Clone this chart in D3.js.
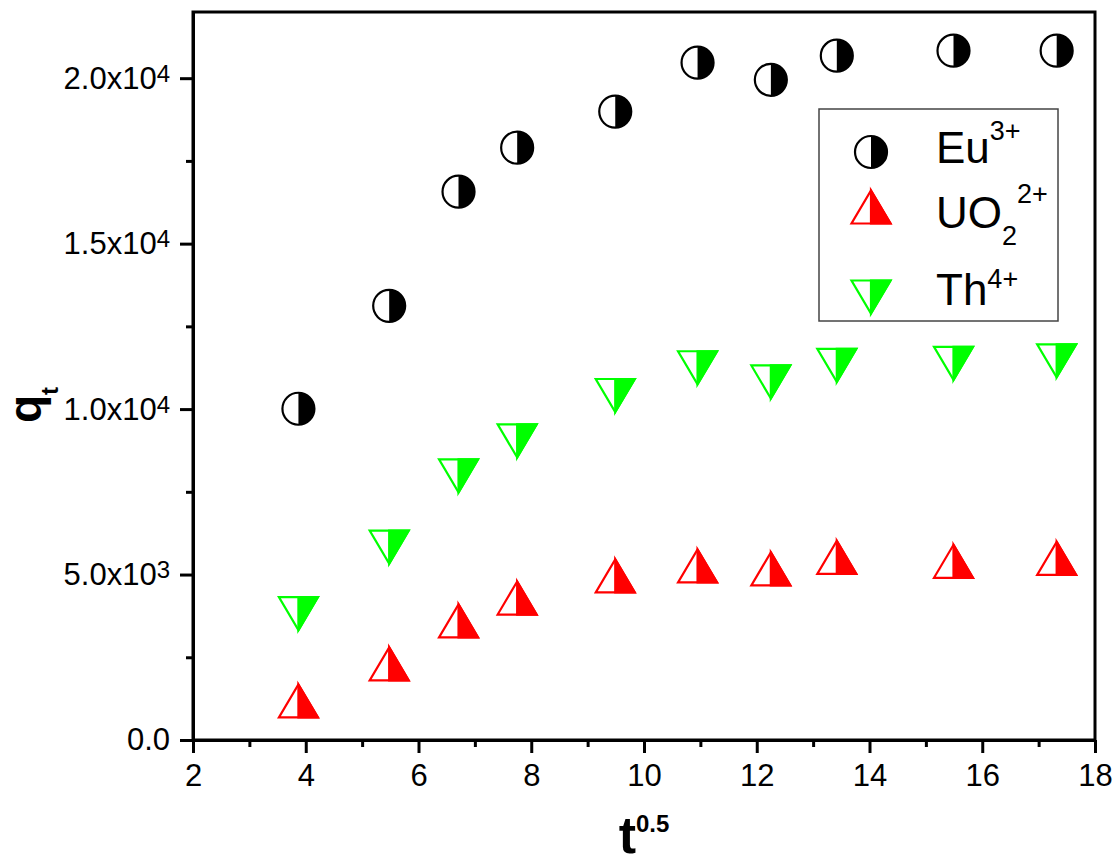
<!DOCTYPE html>
<meta charset="utf-8">
<head>
  <title>q_t vs t^0.5</title>
</head>
<style>
body { margin: 0; background: #fff; }
text { font-family: Arial, "Liberation Sans", sans-serif; fill: #000; }
</style>
<body>
<svg id="chart" width="1117" height="861"></svg>
<script src="https://cdnjs.cloudflare.com/ajax/libs/d3/7.8.5/d3.min.js"></script>
<script>
// data
var tHalf = [3.87, 5.48, 6.71, 7.75, 9.49, 10.95, 12.25, 13.42, 15.49, 17.32];
var eu  = [10010, 13120, 16570, 17900, 18990, 20470, 19950, 20680, 20830, 20830];
var uo2 = [1180, 2300, 3600, 4290, 4960, 5260, 5170, 5520, 5400, 5490];
var th  = [3820, 5830, 7980, 9040, 10410, 11250, 10820, 11320, 11380, 11460];

var xMajor = [2, 4, 6, 8, 10, 12, 14, 16, 18];
var xMinor = [3, 5, 7, 9, 11, 13, 15, 17];
var yMajor = [0, 5000, 10000, 15000, 20000];
var yMinor = [2500, 7500, 12500, 17500];
var yMant = ["0.0", "5.0x10", "1.0x10", "1.5x10", "2.0x10"];
var yExp  = ["", "3", "4", "4", "4"];

var pLeft = 193, pRight = 1095, pTop = 12, pBottom = 740;

var svg = d3.select("#chart");
svg.append("rect").attr("width", 1117).attr("height", 861).attr("fill", "#fff");

var x = d3.scaleLinear().domain([2, 18]).range([pLeft, pRight]);
var y = d3.scaleLinear().domain([0, 22000]).range([pBottom, pTop]);

// frame
svg.append("rect")
  .attr("x", pLeft).attr("y", pTop)
  .attr("width", pRight - pLeft).attr("height", pBottom - pTop)
  .attr("fill", "none").attr("stroke", "#000").attr("stroke-width", 3);

// minor ticks
svg.append("g")
  .attr("transform", "translate(0," + pBottom + ")")
  .call(d3.axisBottom(x).tickValues(xMinor).tickSize(7).tickSizeOuter(0).tickFormat(""))
  .call(styleAxis);
svg.append("g")
  .attr("transform", "translate(" + pLeft + ",0)")
  .call(d3.axisLeft(y).tickValues(yMinor).tickSize(7).tickSizeOuter(0).tickFormat(""))
  .call(styleAxis);

// major ticks
var xg = svg.append("g")
  .attr("transform", "translate(0," + pBottom + ")")
  .call(d3.axisBottom(x).tickValues(xMajor).tickSize(13).tickPadding(11).tickSizeOuter(0).tickFormat(d3.format("d")))
  .call(styleAxis);
xg.selectAll("text").style("font-size", "31px");

var yg = svg.append("g")
  .attr("transform", "translate(" + pLeft + ",0)")
  .call(d3.axisLeft(y).tickValues(yMajor).tickSize(13).tickPadding(10).tickSizeOuter(0).tickFormat(""))
  .call(styleAxis);
yg.selectAll(".tick text").each(function(d, i) {
  var t = d3.select(this).style("font-size", "31px");
  t.append("tspan").text(yMant[i]);
  if (yExp[i]) t.append("tspan").attr("dy", -7).style("font-size", "24px").text(yExp[i]);
});

function styleAxis(g) {
  g.select(".domain").attr("stroke-width", 3);
  g.selectAll(".tick line").attr("stroke-width", 3);
}

// axis titles
var xt = svg.append("text")
  .attr("x", 644).attr("y", 853)
  .attr("text-anchor", "middle")
  .style("font-weight", "bold");
xt.append("tspan").style("font-size", "52px").text("t");
xt.append("tspan").attr("dy", -21).style("font-size", "24px").text("0.5");

var yt = svg.append("text")
  .attr("transform", "translate(41,405) rotate(-90)")
  .attr("text-anchor", "middle")
  .style("font-weight", "bold");
yt.append("tspan").style("font-size", "46px").text("q");
yt.append("tspan").attr("dy", 17).style("font-size", "24px").text("t");

// markers
var hw = 19.5, hh = 16.5, r = 16;

function circleMark(g) {
  g.append("circle").attr("r", r).attr("fill", "#fff").attr("stroke", "#000").attr("stroke-width", 2.2);
  g.append("path").attr("d", "M0," + (-r) + "A" + r + "," + r + " 0 0,1 0," + r + "Z").attr("fill", "#000");
}
function triMark(g, color, up) {
  var s = up ? 1 : -1;
  g.append("path")
    .attr("d", "M0," + (-s * hh) + "L" + hw + "," + (s * hh) + "L" + (-hw) + "," + (s * hh) + "Z")
    .attr("fill", "#fff").attr("stroke", color).attr("stroke-width", 2.2).attr("stroke-linejoin", "miter");
  g.append("path")
    .attr("d", "M0," + (-s * hh) + "L" + hw + "," + (s * hh) + "L0," + (s * hh) + "Z")
    .attr("fill", color).attr("stroke", color).attr("stroke-width", 2.2);
}

var series = [
  { vals: eu,  draw: function(g) { circleMark(g); } },
  { vals: uo2, draw: function(g) { triMark(g, "#ff0000", true); } },
  { vals: th,  draw: function(g) { triMark(g, "#00ff00", false); } }
];

series.forEach(function(s) {
  svg.append("g").selectAll("g")
    .data(tHalf)
    .enter().append("g")
    .attr("transform", function(d, i) { return "translate(" + x(d) + "," + y(s.vals[i]) + ")"; })
    .each(function() { s.draw(d3.select(this)); });
});

// legend
var lg = svg.append("g");
lg.append("rect").attr("x", 819).attr("y", 109).attr("width", 239).attr("height", 212)
  .attr("fill", "#fff").attr("stroke", "#444").attr("stroke-width", 1.5);

lg.append("g").attr("transform", "translate(871,152)").call(circleMark);
lg.append("g").attr("transform", "translate(871,207)").call(function(g) { triMark(g, "#ff0000", true); });
lg.append("g").attr("transform", "translate(871,297)").call(function(g) { triMark(g, "#00ff00", false); });

var l1 = lg.append("text").attr("x", 936).attr("y", 163);
l1.append("tspan").style("font-size", "44px").text("Eu");
l1.append("tspan").attr("y", 140).style("font-size", "27px").text("3+");

var l2 = lg.append("text").attr("x", 936).attr("y", 228);
l2.append("tspan").style("font-size", "44px").text("UO");
l2.append("tspan").attr("y", 245).style("font-size", "27px").text("2");
l2.append("tspan").attr("y", 203).style("font-size", "27px").text("2+");

var l3 = lg.append("text").attr("x", 936).attr("y", 305);
l3.append("tspan").style("font-size", "44px").text("Th");
l3.append("tspan").attr("y", 288).style("font-size", "27px").text("4+");
</script>
</body>
